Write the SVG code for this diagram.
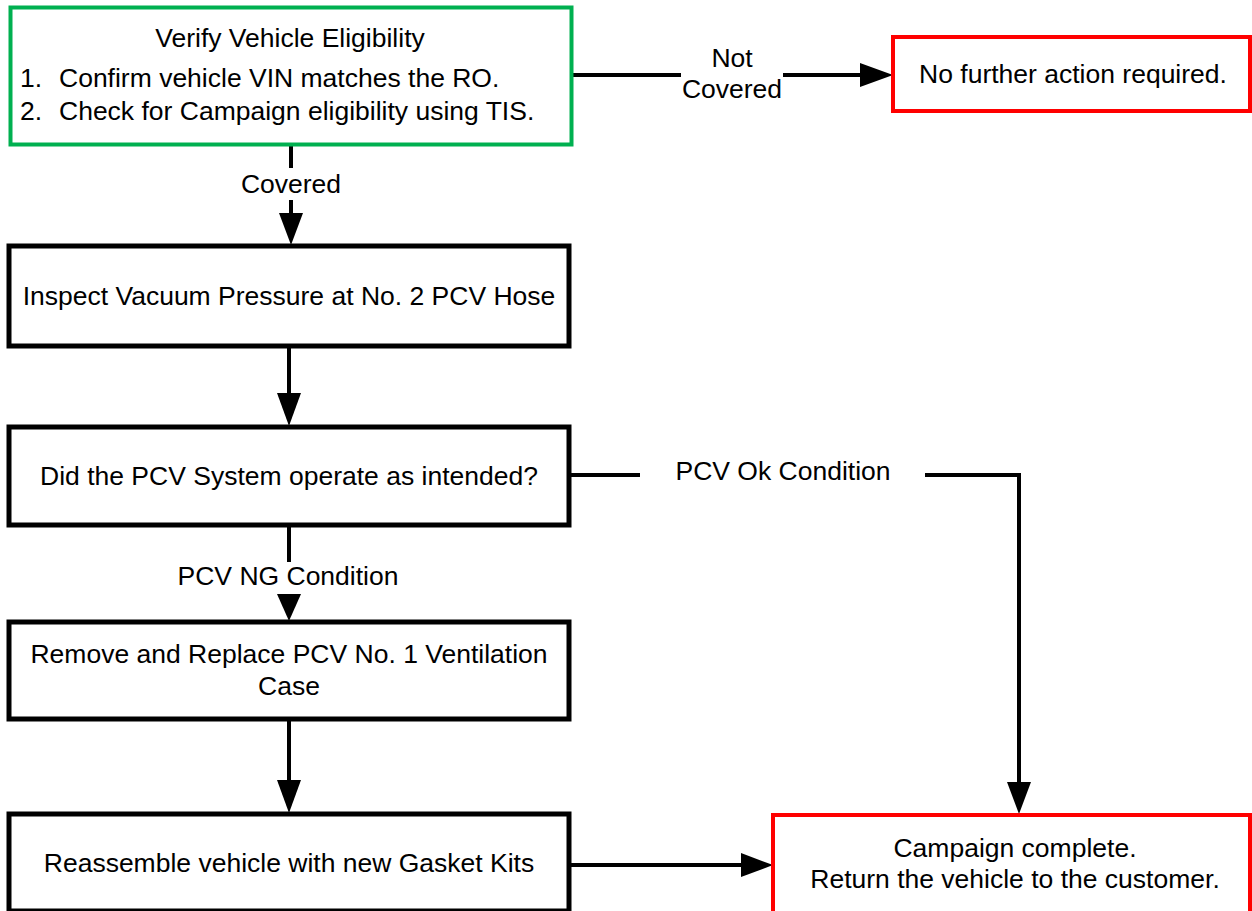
<svg xmlns="http://www.w3.org/2000/svg" width="1252" height="911" viewBox="0 0 1252 911">
<style>
text{font-family:"Liberation Sans",Arial,sans-serif;font-size:26.5px;fill:#000}
.c{text-anchor:middle}
.box{fill:#fff;stroke:#000;stroke-width:5}
.green{fill:#fff;stroke:#00B050;stroke-width:4}
.red{fill:#fff;stroke:#FF0000;stroke-width:4}
.ln{fill:none;stroke:#000;stroke-width:4}
.ah{fill:#000}
</style>
<rect width="1252" height="911" fill="#fff"/>
<g id="connectors">
<path class="ln" d="M572,75H681M783,75H862"/>
<polygon class="ah" points="860,63 893,75 860,87"/>
<path class="ln" d="M291,145V168M291,200V215"/>
<polygon class="ah" points="279,213 291,245 303,213"/>
<path class="ln" d="M289,346V395"/>
<polygon class="ah" points="277,393 289,426 301,393"/>
<path class="ln" d="M571,475H640M925,475H1019V785"/>
<polygon class="ah" points="1007,782 1019,814 1031,782"/>
<path class="ln" d="M289,525V562"/>
<polygon class="ah" points="277,594 289,621 301,594"/>
<path class="ln" d="M289,720V782"/>
<polygon class="ah" points="277,780 289,813 301,780"/>
<path class="ln" d="M569,865H743"/>
<polygon class="ah" points="741,853 773,865 741,877"/>
</g>
<g id="verify">
<rect class="green" x="10.5" y="7.5" width="561" height="137"/>
<text class="c" x="290" y="47">Verify Vehicle Eligibility</text>
<text x="20" y="87">1.</text>
<text x="59" y="87">Confirm vehicle VIN matches the RO.</text>
<text x="20" y="120">2.</text>
<text x="59" y="120">Check for Campaign eligibility using TIS.</text>
</g>
<g id="no-action">
<rect class="red" x="893" y="37" width="357" height="74"/>
<text class="c" x="1073" y="83">No further action required.</text>
</g>
<g id="labels">
<text class="c" x="732" y="67">Not</text>
<text class="c" x="732" y="98">Covered</text>
<text class="c" x="291" y="193">Covered</text>
<text class="c" x="783" y="480">PCV Ok Condition</text>
<text class="c" x="288" y="585">PCV NG Condition</text>
</g>
<g id="inspect">
<rect class="box" x="9" y="246" width="560" height="100"/>
<text class="c" x="289" y="305">Inspect Vacuum Pressure at No. 2 PCV Hose</text>
</g>
<g id="did">
<rect class="box" x="9" y="427" width="560" height="98"/>
<text class="c" x="289" y="485">Did the PCV System operate as intended?</text>
</g>
<g id="remove">
<rect class="box" x="9" y="622" width="560" height="97"/>
<text class="c" x="289" y="663">Remove and Replace PCV No. 1 Ventilation</text>
<text class="c" x="289" y="695">Case</text>
</g>
<g id="reassemble">
<rect class="box" x="9" y="814" width="560" height="97"/>
<text class="c" x="289" y="872">Reassemble vehicle with new Gasket Kits</text>
</g>
<g id="complete">
<rect class="red" x="773" y="815" width="477" height="98"/>
<text class="c" x="1015" y="857">Campaign complete.</text>
<text class="c" x="1015" y="888">Return the vehicle to the customer.</text>
</g>
</svg>
